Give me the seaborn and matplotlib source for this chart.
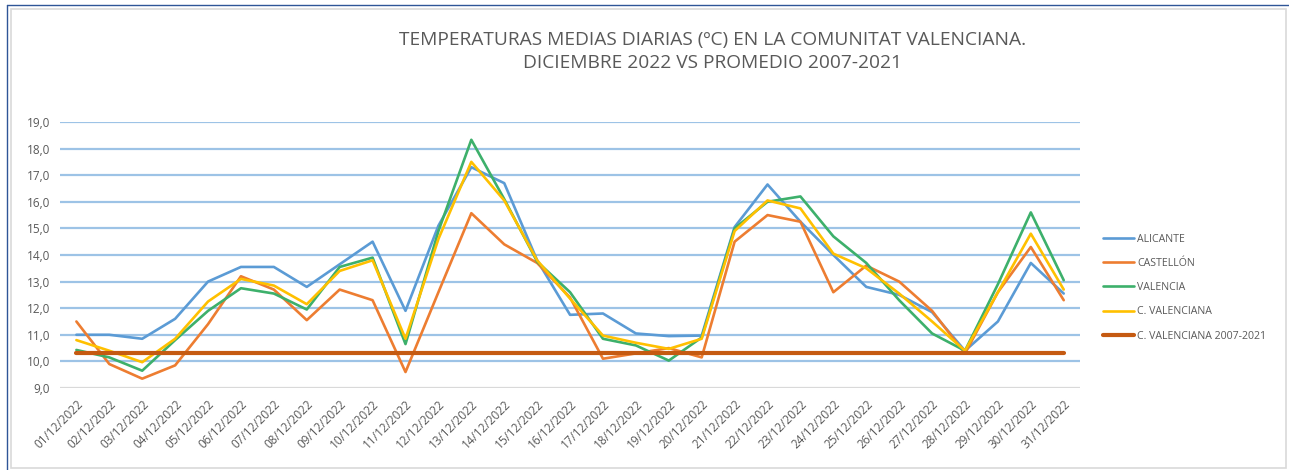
import seaborn as sns
import matplotlib.pyplot as plt
import pandas as pd
from matplotlib.patches import Rectangle
from matplotlib.lines import Line2D
import matplotlib.transforms as mtransforms

# Data
dias = ['%02d/12/2022' % d for d in range(1, 32)]
alicante = [11.0, 11.0, 10.85, 11.6, 13.0, 13.55, 13.55, 12.8, 13.65, 14.5, 11.9,
            15.1, 17.3, 16.7, 13.8, 11.75, 11.8, 11.05, 10.95, 10.97, 15.05, 16.65,
            15.25, 14.0, 12.8, 12.5, 11.85, 10.4, 11.5, 13.7, 12.55]
castellon = [11.5, 9.9, 9.35, 9.85, 11.4, 13.2, 12.7, 11.55, 12.7, 12.3, 9.6,
             12.6, 15.57, 14.4, 13.7, 12.4, 10.1, 10.3, 10.5, 10.15, 14.5, 15.5,
             15.25, 12.6, 13.6, 13.0, 11.9, 10.3, 12.6, 14.3, 12.3]
valencia = [10.43, 10.15, 9.65, 10.8, 11.9, 12.75, 12.55, 11.95, 13.55, 13.9, 10.65,
            14.9, 18.33, 16.1, 13.75, 12.6, 10.85, 10.6, 10.03, 10.9, 15.0, 16.0,
            16.2, 14.7, 13.7, 12.3, 11.05, 10.4, 12.9, 15.6, 13.05]
c_valenciana = [10.8, 10.4, 9.97, 10.85, 12.25, 13.1, 12.85, 12.15, 13.4, 13.8, 10.85,
                14.6, 17.5, 16.05, 13.8, 12.36, 10.97, 10.7, 10.47, 10.85, 14.9, 16.05,
                15.75, 14.05, 13.5, 12.55, 11.5, 10.4, 12.6, 14.8, 12.7]
promedio = [10.3] * 31

series = {'ALICANTE': alicante, 'CASTELLÓN': castellon, 'VALENCIA': valencia,
          'C. VALENCIANA': c_valenciana, 'C. VALENCIANA 2007-2021': promedio}
colores = {'ALICANTE': '#5B9BD5', 'CASTELLÓN': '#ED7D31', 'VALENCIA': '#3DB06B',
           'C. VALENCIANA': '#FFC000', 'C. VALENCIANA 2007-2021': '#C55A11'}
anchos = {'ALICANTE': 1.9, 'CASTELLÓN': 1.9, 'VALENCIA': 1.9,
          'C. VALENCIANA': 1.9, 'C. VALENCIANA 2007-2021': 3.0}

df = pd.concat([pd.DataFrame({'dia': dias, 'temp': v, 'serie': k}) for k, v in series.items()])

sns.set_style('white')
plt.rcParams['font.family'] = ['Open Sans', 'DejaVu Sans']
gris = '#595959'

fig = plt.figure(figsize=(12.89, 4.70), dpi=100)
ax = fig.add_axes([0.0465, 0.1745, 0.7915, 0.566])

# gridlines
for v in range(10, 20):
    ax.axhline(v, color='#9DC3E6', lw=1.6, zorder=0)
ax.axhline(9, color='#D9D9D9', lw=1.6, zorder=0)

sns.lineplot(data=df, x='dia', y='temp', hue='serie', palette=colores, sort=False,
             ax=ax, legend=False)
for line, k in zip(ax.lines[11:], series):
    line.set_linewidth(anchos[k])

ax.set_xlim(-0.5, 30.5)
ax.set_ylim(9, 19)
ax.set_yticks(range(9, 20))
ax.set_yticklabels(['%d,0' % v for v in range(9, 20)], fontsize=8.5, color=gris)
ax.set_xticks(range(31))
ax.set_xticklabels(dias, rotation=45, ha='right', rotation_mode='anchor', fontsize=8.5, color=gris)
shift = mtransforms.ScaledTranslation(-8 / 100, 0, fig.dpi_scale_trans)
for lbl in ax.get_xticklabels():
    lbl.set_transform(lbl.get_transform() + shift)
ax.tick_params(axis='both', length=0, pad=7)
ax.set_xlabel('')
ax.set_ylabel('')
for s in ax.spines.values():
    s.set_visible(False)

fig.text(0.553, 0.915, 'TEMPERATURAS MEDIAS DIARIAS (ºC) EN LA COMUNITAT VALENCIANA.',
         ha='center', va='center', fontsize=13.8, color=gris)
fig.text(0.553, 0.865, 'DICIEMBRE 2022 VS PROMEDIO 2007-2021',
         ha='center', va='center', fontsize=13.8, color=gris)

handles = [Line2D([], [], color=colores[k], lw=anchos[k]) for k in series]
fig.legend(handles, list(series), loc='center left', bbox_to_anchor=(0.848, 0.388),
           frameon=False, fontsize=7.6, labelcolor=gris, handlelength=3.0,
           handletextpad=0.3, labelspacing=1.25)

# outer frames
fig.add_artist(Rectangle((11 / 1289, 1 - 468 / 470), 1275 / 1289, 459 / 470,
                         transform=fig.transFigure, fill=False, ec='#D9D9D9', lw=1.2))
fig.add_artist(Line2D([7 / 1289, 7 / 1289], [0, 1 - 5 / 470], transform=fig.transFigure,
                      color='#2F5597', lw=1.0))
fig.add_artist(Line2D([7 / 1289, 1], [1 - 5 / 470, 1 - 5 / 470], transform=fig.transFigure,
                      color='#2F5597', lw=1.0))

fig.savefig('out.png', dpi=100)
